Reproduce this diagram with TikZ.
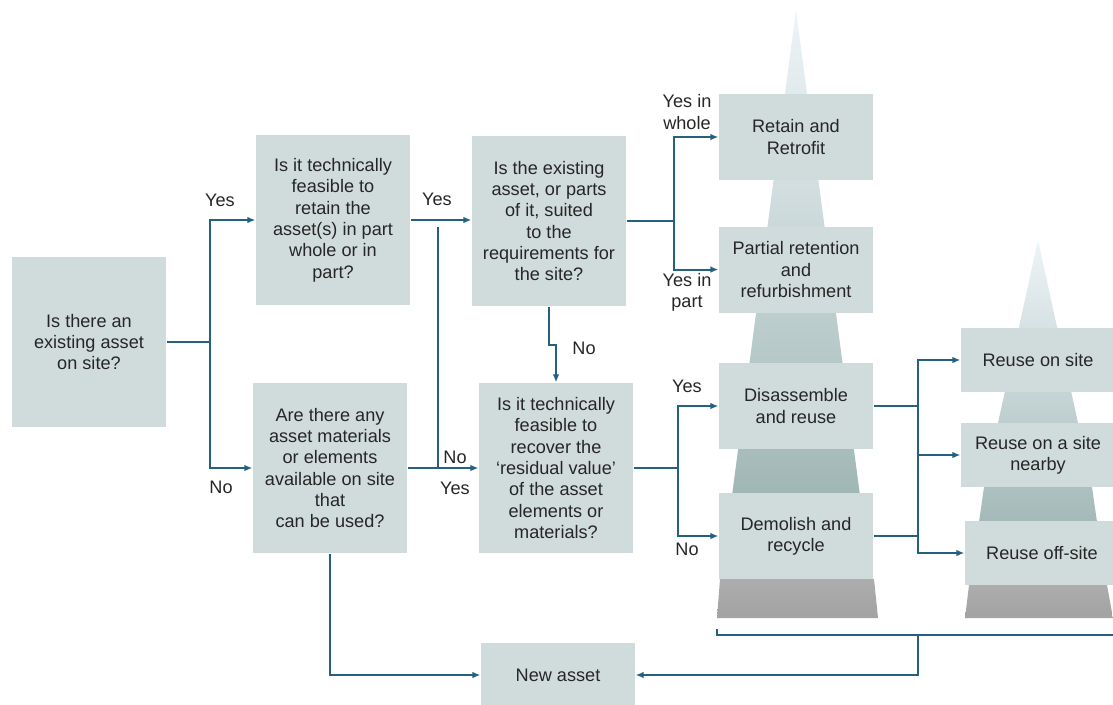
\documentclass[tikz,border=0pt]{standalone}
\usepackage{fontspec}
\setmainfont{Liberation Sans}
\usetikzlibrary{positioning, arrows.meta, calc}
\definecolor{boxfill}{HTML}{D0DCDB}
\definecolor{flowline}{HTML}{23617F}
\definecolor{txtgrey}{HTML}{262626}
\definecolor{spiretop}{HTML}{EEF4F8}
\definecolor{spirebot}{HTML}{93ACAA}
\definecolor{basetop}{HTML}{ADADAD}
\definecolor{basebot}{HTML}{A2A2A2}
\tikzset{
>={Latex[width=5pt,length=6pt]},
every node/.append style={font=\fontsize{13.6}{16}\selectfont, text=txtgrey},
question/.style={fill=boxfill, minimum width=116pt, minimum height=128pt, align=center, inner sep=0pt},
option/.style={fill=boxfill, minimum width=116pt, minimum height=64.5pt, align=center, inner sep=0pt},
reuse/.style={fill=boxfill, minimum width=116pt, minimum height=48.5pt, align=center, inner sep=0pt},
answer/.style={align=center, inner sep=0pt},
flow/.style={draw=flowline, line width=1.5pt},
}

\begin{document}
\begin{tikzpicture}[x=0.75pt, y=-0.75pt]
            \useasboundingbox (0,0) rectangle (1113,704);

            % Pyramids behind the options
            \shade[top color=spiretop, bottom color=spirebot] (796,10) -- (871,579) -- (721,579) -- cycle;
            \shade[top color=basetop, bottom color=basebot] (720,579) -- (874,579) -- (878,618) -- (717,618) -- cycle;
            \shade[top color=spiretop, bottom color=spirebot] (1038,240) -- (1092,487) -- (1106,585) -- (970,585) -- (984,487) -- cycle;
            \shade[top color=basetop, bottom color=basebot] (969,585) -- (1107,585) -- (1113,618) -- (965,618) -- cycle;

            % Questions
            \node[question] (q0) at (89,342) {Is there an\\existing asset\\on site?};
            \node[question] (q1) at (333,220) {Is it technically\\feasible to\\retain the\\asset(s) in part\\whole or in\\part?};
            \node[question] (q2) at (330,468) {Are there any\\asset materials\\or elements\\available on site\\that\\can be used?};
            \node[question] (q3) at (549,221) {Is the existing\\asset, or parts\\of it, suited\\to the\\requirements for\\the site?};
            \node[question] (q4) at (556,468) {Is it technically\\feasible to\\recover the\\‘residual value’\\of the asset\\elements or\\materials?};

            % Options
            \node[option] (retain) at (796,137) {Retain and\\Retrofit};
            \node[option, below=34.5pt of retain] (partial) {Partial retention\\and\\refurbishment};
            \node[option] (disass) at (796,406) {Disassemble\\and reuse};
            \node[option] (demol) at (796,536) {Demolish and\\recycle};
            \node[reuse] (onsite) at (1038,360) {Reuse on site};
            \node[reuse] (nearby) at (1038,455) {Reuse on a site\\nearby};
            \node[reuse] (offsite) at (1042,553) {Reuse off-site};
            \node[reuse] (newasset) at (558,675) {New asset};

            % Answers
            \node[answer] (yes1) at (220,200) {Yes};
            \node[answer] (no1) at (221,487) {No};
            \node[answer] (yes2) at (437,199) {Yes};
            \node[answer] (no2) at (455,457) {No};
            \node[answer] (yes3) at (455,488) {Yes};
            \node[answer] (no3) at (584,348) {No};
            \node[answer] (whole) at (687,112) {Yes in\\whole};
            \node[answer] (part) at (687,292) {Yes in\\part};
            \node[answer] (yes4) at (687,386) {Yes};
            \node[answer] (no4) at (687,549) {No};

            % Paths from q0
            \draw[flow, line width=2.2pt] (q0.east) -- ++(43,0) coordinate (q0s);
            \draw[flow, ->] (q0s) |- (q1.west);
            \draw[flow, ->] (q0s) |- (q2.west);

            % Paths from q1 and q2
            \draw[flow, ->] (q1.east) -- (q1.east -| q3.west);
            \coordinate (q1n) at (438,227);
            \draw[flow] (q1n) -- (q1n |- q4.west);
            \draw[flow, ->] (q2.east) -- (q4.west);
            \draw[flow, ->] (q2.south) |- (newasset.west);

            % Paths from q3
            \draw[flow, ->] (q3.south) -- ++(0,38) -| (q4.north);
            \draw[flow] (q3.east) -- ++(47,0) coordinate (q3s);
            \draw[flow, ->] (q3s) |- (retain.west);
            \draw[flow, ->] (q3s) |- (partial.west);

            % Paths from q4
            \draw[flow] (q4.east) -- ++(44,0) coordinate (q4s);
            \draw[flow, ->] (q4s) |- (disass.west);
            \draw[flow, ->] (q4s) |- (demol.west);

            % Reuse branches
            \draw[flow] (disass.east) -- ++(44,0) coordinate (rj);
            \draw[flow] (demol.east) -- (demol.east -| rj);
            \draw[flow, ->] (rj) |- (onsite.west);
            \draw[flow, ->] (rj) |- (offsite.west);
            \draw[flow, ->] (rj |- nearby.west) -- (nearby.west);

            % Bracket back to new asset
            \coordinate (brl) at (717,629);
            \coordinate (brk) at (918,635);
            \draw[flow, line width=1.3pt] (brl) |- (1120,635);
            \draw[flow, ->] (brk) |- (newasset.east);
\end{tikzpicture}
\end{document}
